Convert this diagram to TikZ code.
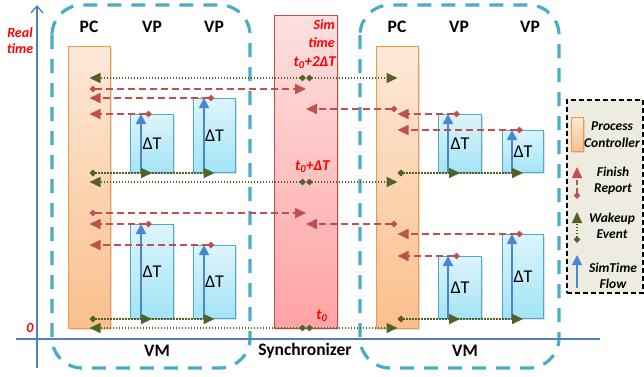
\documentclass[tikz,border=0pt]{standalone}
\usepackage{fontspec}
\setmainfont{Carlito}
\usetikzlibrary{arrows.meta,calc,shadows}
\definecolor{vmcol}{HTML}{4BACC6}
\definecolor{pcborder}{HTML}{F79646}
\definecolor{pctop}{HTML}{FDE9D9}
\definecolor{pcbot}{HTML}{FBBF8C}
\definecolor{vpborder}{HTML}{4BACC6}
\definecolor{vptop}{HTML}{DDF4FC}
\definecolor{vpbot}{HTML}{A3E4F6}
\definecolor{syborder}{HTML}{C0504D}
\definecolor{sytop}{HTML}{FDE0E0}
\definecolor{sybot}{HTML}{FFA3A5}
\definecolor{fincol}{HTML}{C0504D}
\definecolor{wakecol}{HTML}{4F6228}
\definecolor{flowcol}{HTML}{4A86D6}
\definecolor{axiscol}{HTML}{4F81BD}
\definecolor{legfill}{HTML}{EEECE1}
\definecolor{redtxt}{HTML}{FF0000}
\tikzset{
  vmbox/.style={draw=vmcol, line width=3.2pt, dash pattern=on 14pt off 10pt, rounded corners=30pt},
  boxbase/.style={anchor=north west, inner sep=0pt, line width=1pt,
    drop shadow={opacity=0.25, shadow xshift=1.5pt, shadow yshift=-1.5pt}},
  pcbox/.style={boxbase, draw=pcborder, top color=pctop, bottom color=pcbot, minimum width=42pt},
  vpbox/.style={boxbase, draw=vpborder, top color=vptop, bottom color=vpbot, font=\fontsize{18}{20}\selectfont},
  sybox/.style={boxbase, draw=syborder, top color=sytop, bottom color=sybot},
  wake/.style={draw=wakecol, line width=1.6pt, dash pattern=on 1.5pt off 1.5pt,
    {Diamond[length=7pt,width=6.5pt]}-{Triangle[length=11pt,width=10pt]}},
  finish/.style={draw=fincol, line width=1.6pt, dash pattern=on 7pt off 4pt,
    {Diamond[length=7pt,width=6.5pt]}-{Triangle[length=11pt,width=10pt]}},
  flow/.style={draw=flowcol, line width=1.8pt, -{Triangle[length=10pt,width=10pt]}},
  axisline/.style={draw=axiscol, line width=1.3pt},
  head/.style={font=\fontsize{17.5}{20}\selectfont\bfseries},
  redlab/.style={text=redtxt, font=\fontsize{14}{16}\selectfont\bfseries\itshape, inner sep=0pt},
  redbig/.style={text=redtxt, font=\fontsize{15}{17}\selectfont\bfseries\itshape, inner sep=0pt},
  legtext/.style={font=\fontsize{13.5}{16.5}\selectfont\bfseries\itshape, align=center, inner sep=0pt},
  legbox/.style={draw=black, line width=1.5pt, dash pattern=on 5pt off 3pt, fill=legfill, anchor=north west, inner sep=0pt}
}
\begin{document}
\begin{tikzpicture}[x=1pt,y=-1pt]
\useasboundingbox (0,0) rectangle (644,376);
% VM containers
\draw[vmbox] (52,5) rectangle (250,368);
\draw[vmbox] (360,5) rectangle (559,368);
% axes
\coordinate (ytop) at (37,5);
\coordinate (ybot) at (37,368);
\coordinate (xl) at (16,339);
\coordinate (xr) at (600,339);
\draw[axisline] (xl) -- (xr);
\draw[axisline, -{Straight Barb[length=7pt,width=12pt]}] (ybot) -- (ytop);
\node[redlab, align=center] (rt) at (20,41) {Real\\time};
\node[redlab] (zero) at (30,328) {0};
% boxes
\node[pcbox, minimum height=282pt] (pcL) at (68,46) {};
\node[pcbox, minimum height=282pt] (pcR) at (376,46) {};
\node[sybox, minimum width=63pt, minimum height=313pt] (sync) at (274,15) {};
\node[vpbox, minimum width=43pt, minimum height=58pt] (la1) at (130,114) {ΔT};
\node[vpbox, minimum width=42pt, minimum height=74pt] (la2) at (193,98) {ΔT};
\node[vpbox, minimum width=43pt, minimum height=94pt] (lb1) at (130,224) {ΔT};
\node[vpbox, minimum width=42pt, minimum height=73pt] (lb2) at (193,245) {ΔT};
\node[vpbox, minimum width=43pt, minimum height=58pt] (ra1) at (438,114) {ΔT};
\node[vpbox, minimum width=41pt, minimum height=42pt] (ra2) at (502,130) {ΔT};
\node[vpbox, minimum width=43pt, minimum height=62pt] (rb1) at (438,256) {ΔT};
\node[vpbox, minimum width=41pt, minimum height=84pt] (rb2) at (502,234) {ΔT};
% headers
\node[head] (hpcL) at (89,27) {PC};
\node[head] (hvL1) at (152,27) {VP};
\node[head] (hvL2) at (214,27) {VP};
\node[head] (hpcR) at (397,27) {PC};
\node[head] (hvR1) at (459,27) {VP};
\node[head] (hvR2) at (530,27) {VP};
\node[head] (vmL) at (157,351) {VM};
\node[head] (syn) at (305,351) {Synchronizer};
\node[head] (vmR) at (465,351) {VM};
% sync labels
\node[redlab, anchor=east] (sim) at (335,25) {Sim};
\node[redlab, anchor=east] (tim) at (335,43) {time};
\node[redbig, anchor=east] (t2) at (336,63) {t\textsubscript{0}+2ΔT};
\node[redbig, anchor=east] (t1) at (330,167) {t\textsubscript{0}+ΔT};
\node[redbig] (t0) at (322,316) {t\textsubscript{0}};
% row levels
\coordinate (w1) at (0,78);
\coordinate (w2) at (0,182);
\coordinate (w3) at (0,328);
\coordinate (fL1) at (0,89);
\coordinate (fL2) at (0,213);
\coordinate (fR1) at (0,109);
\coordinate (fR2) at (0,224);
% simtime flow
\foreach \v/\s in {la1/11,la2/11,lb1/11,lb2/11,ra1/10,ra2/10,rb1/10,rb2/10}{
  \draw[flow] ([xshift=\s pt]\v.south west) -- ([xshift=\s pt]\v.north west);
}
% wakeups from synchronizer
\foreach \w in {w1,w2,w3}{
  \draw[wake] (sync |- \w) -- (pcL |- \w);
  \draw[wake] (sync |- \w) -- (pcR |- \w);
}
% wakeups from PCs to VPs
\foreach \p/\v in {pcL/la1,pcL/la2,pcL/lb1,pcL/lb2,pcR/ra1,pcR/ra2,pcR/rb1,pcR/rb2}{
  \draw[wake] (\p |- \v.south) -- (\v.south);
}
% finish reports VP -> PC
\foreach \p/\v in {pcL/la1,pcL/la2,pcL/lb1,pcL/lb2,pcR/ra1,pcR/ra2,pcR/rb1,pcR/rb2}{
  \draw[finish] (\v.north) -- (\p |- \v.north);
}
% finish reports PC -> synchronizer
\draw[finish] (pcL |- fL1) -- (sync |- fL1);
\draw[finish] (pcL |- fL2) -- (sync |- fL2);
\draw[finish] (pcR |- fR1) -- (sync |- fR1);
\draw[finish] (pcR |- fR2) -- (sync |- fR2);
% legend
\node[legbox, minimum width=76pt, minimum height=193pt] (leg) at (566,99) {};
\node[pcbox, minimum width=12pt, minimum height=34pt] (lpc) at (571,117) {};
\node[legtext] (lt1) at (612,134.5) {Process\\Controller};
\coordinate (lf1) at (577,199);
\coordinate (lf2) at (577,167);
\draw[finish, dash pattern=on 5pt off 3pt] (lf1) -- (lf2);
\node[legtext] (lt2) at (613,181) {Finish\\Report};
\coordinate (lw1) at (577,243);
\coordinate (lw2) at (577,212);
\draw[wake] (lw1) -- (lw2);
\node[legtext] (lt3) at (612,226) {Wakeup\\Event};
\coordinate (ls1) at (577,288);
\coordinate (ls2) at (577,255);
\draw[flow] (ls1) -- (ls2);
\node[legtext] (lt4) at (613,276) {SimTime\\Flow};
\end{tikzpicture}
\end{document}
